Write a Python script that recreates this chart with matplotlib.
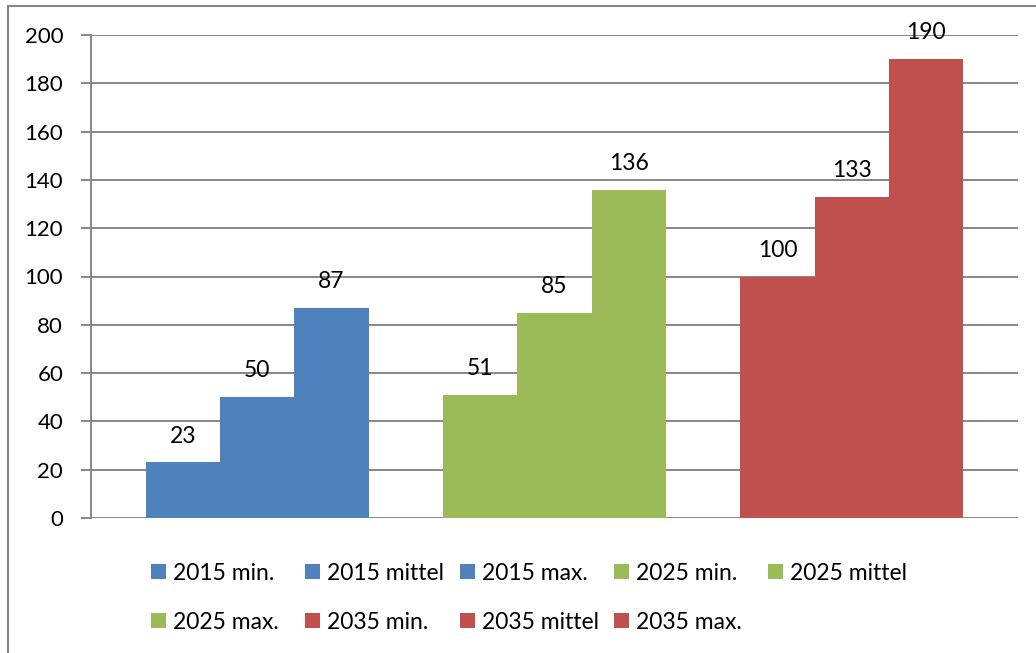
import matplotlib.pyplot as plt
from matplotlib.patches import Rectangle
import numpy as np

plt.rcParams['font.family'] = ['Lato', 'DejaVu Sans']

labels = ["2015 min.", "2015 mittel", "2015 max.",
          "2025 min.", "2025 mittel", "2025 max.",
          "2035 min.", "2035 mittel", "2035 max."]
values = [23, 50, 87, 51, 85, 136, 100, 133, 190]
group_colors = ["#4F81BD", "#9BBB59", "#C0504D"]
yticks = [0, 20, 40, 60, 80, 100, 120, 140, 160, 180, 200]

W, H = 1036, 653
fig = plt.figure(figsize=(W / 100, H / 100), dpi=100)
ax = fig.add_axes([91/W, 1-518/H, (1018-91)/W, (518-35)/H])

# outer chart border (only left and top visible in the original crop)
fig.patches.append(Rectangle((7.5/W, -0.2), 1.5, 1.2 - 5.5/H,
                             transform=fig.transFigure, fill=False,
                             edgecolor="#868686", linewidth=1.5))

gridc = "#868686"
for yv in yticks:
    ax.axhline(yv, color=gridc, linewidth=1.4, zorder=0)

# bars: 3 groups of 3, adjacent inside a group, one bar gap between groups
xs = []
colors = []
for i, v in enumerate(values):
    g = i // 3
    xs.append(g * 4 + i % 3)
    colors.append(group_colors[g])

ax.bar(xs, values, width=1.0, align="edge", color=colors, zorder=2)
for x, v in zip(xs, values):
    ax.annotate(str(v), (x + 0.5, v), xytext=(0, 19), textcoords="offset points",
                ha="center", va="center", fontsize=16.5, zorder=3)

ax.set_xlim(-0.735, 11.735)
ax.set_ylim(0, 200)
ax.set_yticks(yticks)
ax.set_xticks([])
ax.tick_params(axis="y", length=7, width=1.4, color=gridc, pad=13, labelsize=16)
for s in ["top", "right", "bottom"]:
    ax.spines[s].set_visible(False)
ax.spines["left"].set_color(gridc)
ax.spines["left"].set_linewidth(1.4)
ax.spines["left"].set_zorder(3)

# legend laid out like the office chart: 5 equal columns, 2 rows
col_x = 151
col_w = 154.3
row_y = [571.5, 620.5]
sq = 15
for i, (c, l) in enumerate(zip(colors, labels)):
    r, k = divmod(i, 5)
    x0 = col_x + k * col_w
    y0 = row_y[r]
    fig.patches.append(Rectangle((x0 / W, 1 - (y0 + sq / 2) / H), sq / W, sq / H,
                                 transform=fig.transFigure, facecolor=c,
                                 edgecolor="none"))
    fig.text((x0 + sq + 7) / W, 1 - y0 / H, l, ha="left", va="center_baseline",
             fontsize=16.5)

fig.savefig("out.png", dpi=100)
